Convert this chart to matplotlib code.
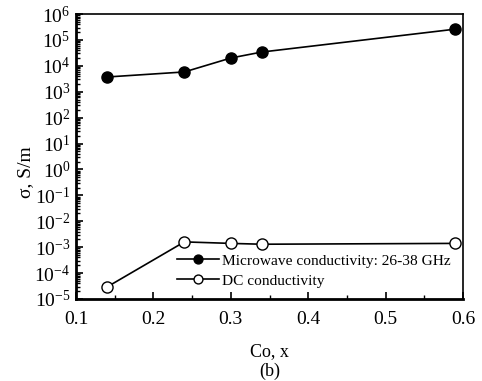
import matplotlib
matplotlib.use("Agg")
import matplotlib.pyplot as plt
from matplotlib.ticker import LogLocator, MultipleLocator, NullFormatter

plt.rcParams["font.family"] = ["Liberation Serif", "DejaVu Serif"]
plt.rcParams["mathtext.fontset"] = "stix"

# data
co_x = [0.14, 0.24, 0.30, 0.34, 0.59]
sigma_mw = [3.7e3, 5.8e3, 2.0e4, 3.4e4, 2.6e5]
sigma_dc = [2.9e-5, 1.6e-3, 1.4e-3, 1.3e-3, 1.4e-3]

fig = plt.figure(figsize=(4.82, 3.81), dpi=100)
ax = fig.add_axes([76 / 482, 1 - 299 / 381, (463 - 76) / 482, (299 - 14) / 381])

ax.plot(co_x, sigma_mw, "-o", color="black", mfc="black", ms=8, lw=1.2,
        label="Microwave conductivity: 26-38 GHz")
ax.plot(co_x, sigma_dc, "-o", color="black", mfc="white", ms=8, lw=1.2,
        label="DC conductivity")

ax.set_yscale("log")
ax.set_xlim(0.1, 0.6)
ax.set_ylim(1e-5, 1e6)
ax.set_yticks([10.0 ** k for k in range(-5, 7)])
ax.yaxis.set_minor_locator(LogLocator(base=10, subs=range(2, 10), numticks=30))
ax.yaxis.set_minor_formatter(NullFormatter())
ax.xaxis.set_major_locator(MultipleLocator(0.1))
ax.xaxis.set_minor_locator(MultipleLocator(0.05))

ax.tick_params(which="both", direction="in", labelsize=14)
ax.tick_params(which="major", length=5, width=1.2)
ax.tick_params(which="minor", length=3, width=1)
ax.tick_params(axis="x", pad=9)
ax.tick_params(axis="y", pad=4)
ax.spines["left"].set_linewidth(2)
ax.spines["bottom"].set_linewidth(2)
ax.spines["top"].set_linewidth(1.2)
ax.spines["right"].set_linewidth(1.2)

ax.set_ylabel("σ, S/m", fontsize=14)
ax.yaxis.set_label_coords((34 - 76) / 387, (299 - 172) / 285)

# x label and panel tag placed by pixel position
xc = 0.5 * (76 + 463) / 482
fig.text(xc, 1 - 352 / 381, "Co, x", ha="center", va="center", fontsize=13)
fig.text(xc, 1 - 371 / 381, "(b)", ha="center", va="center", fontsize=13)

ax.legend(loc="upper left", frameon=False, fontsize=11.1, handlelength=2.7,
          handletextpad=0.2, labelspacing=0.4, borderaxespad=0, borderpad=0,
          markerscale=0.8, bbox_to_anchor=((177 - 76) / 387, (299 - 254) / 285))

fig.savefig("out.png", dpi=100)
